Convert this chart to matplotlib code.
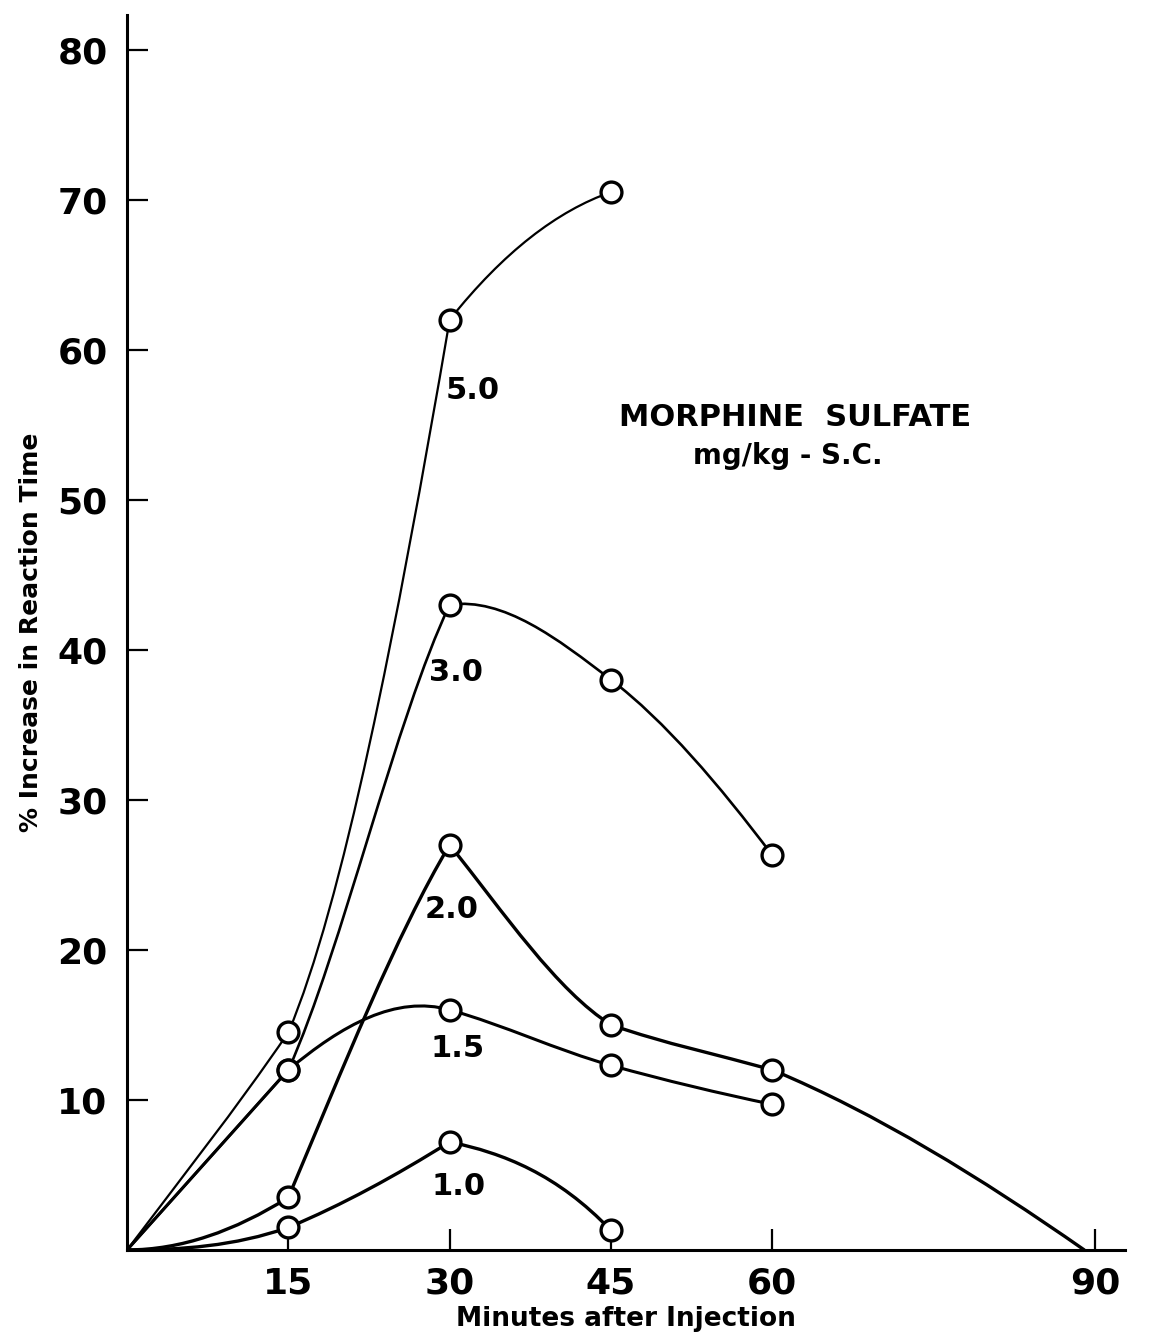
import matplotlib
matplotlib.use("Agg")
import matplotlib.pyplot as plt
from matplotlib.path import Path
from matplotlib.patches import PathPatch

########### DATA ###########
DOSES = ["5.0", "3.0", "2.0", "1.5", "1.0"]

minutes_50 = [0, 15, 30, 45]
pct_50 = [0, 14.5, 62, 70.5]

minutes_30 = [0, 15, 30, 45, 60]
pct_30 = [0, 12, 43, 38, 26.3]

minutes_20 = [0, 15, 30, 45, 60, 89]
pct_20 = [0, 3.5, 27, 15, 12, 0]

minutes_15 = [0, 15, 30, 45, 60]
pct_15 = [0, 12, 16, 12.3, 9.7]

minutes_10 = [0, 15, 30, 45]
pct_10 = [0, 1.5, 7.2, 1.3]

# slope of the hand-drawn curve (in, out) at every point
slopes_50 = [(0.95, 0.95), (1.05, 1.7), (4.2, 0.9), (0.25, 0.25)]
slopes_30 = [(0.8, 0.8), (0.8, 1.6), (1.5, 0.1), (-0.55, -0.55), (-0.95, -0.95)]
slopes_20 = [(0.0, 0.0), (0.45, 1.7), (1.2, -0.9), (-0.45, -0.25), (-0.2, -0.3), (-0.5, -0.5)]
slopes_15 = [(0.8, 0.8), (0.8, 0.6), (-0.2, -0.2), (-0.2, -0.2), (-0.15, -0.15)]
slopes_10 = [(0.0, 0.0), (0.25, 0.3), (0.45, -0.15), (-0.75, -0.75)]

x_ticks = [15, 30, 45, 60, 90]
y_ticks = [10, 20, 30, 40, 50, 60, 70, 80]
############################

series = [
    (minutes_50, pct_50, slopes_50, 1.6),
    (minutes_30, pct_30, slopes_30, 1.9),
    (minutes_20, pct_20, slopes_20, 2.4),
    (minutes_15, pct_15, slopes_15, 2.2),
    (minutes_10, pct_10, slopes_10, 2.4),
]

# where each dose label sits (data coords)
label_pos = {"5.0": (32.1, 57.3), "3.0": (30.6, 38.5), "2.0": (30.2, 22.7),
             "1.5": (30.7, 13.4), "1.0": (30.8, 4.2)}

FONT = "DejaVu Sans"


def hermite_path(xs, ys, slopes):
    verts = [(xs[0], ys[0])]
    codes = [Path.MOVETO]
    for i in range(len(xs) - 1):
        dx = xs[i + 1] - xs[i]
        m0 = slopes[i][1]
        m1 = slopes[i + 1][0]
        verts += [(xs[i] + dx / 3, ys[i] + m0 * dx / 3),
                  (xs[i + 1] - dx / 3, ys[i + 1] - m1 * dx / 3),
                  (xs[i + 1], ys[i + 1])]
        codes += [Path.CURVE4] * 3
    return Path(verts, codes)


fig = plt.figure(figsize=(11.56, 13.4), dpi=100)
ax = fig.add_axes([0.1099, 0.0672, 0.8634, 0.9216])

for xs, ys, sl, lw in series:
    ax.add_patch(PathPatch(hermite_path(xs, ys, sl), fill=False, lw=lw,
                           edgecolor="black", capstyle="round", zorder=2))
    mx = [x for x, y in zip(xs, ys) if y > 0]
    my = [y for y in ys if y > 0]
    ax.plot(mx, my, "o", ms=15, mfc="white", mec="black", mew=2.4,
            linestyle="none", zorder=3)

for dose in DOSES:
    ax.text(*label_pos[dose], dose, ha="center", va="center", fontsize=22,
            fontweight="bold", family=FONT)

ax.text(62.1, 55.5, "MORPHINE  SULFATE", ha="center", va="center",
        fontsize=22, fontweight="bold", family=FONT)
ax.text(61.4, 52.9, "mg/kg - S.C.", ha="center", va="center",
        fontsize=20, fontweight="bold", family=FONT)

ax.set_xlim(0, 92.8)
ax.set_ylim(0, 82.3)
ax.set_xticks(x_ticks)
ax.set_yticks(y_ticks)
ax.tick_params(direction="in", length=15, width=1.6, labelsize=26, pad=12)
ax.tick_params(axis="y", pad=14)
for lab in ax.get_xticklabels() + ax.get_yticklabels():
    lab.set_fontweight("bold")
    lab.set_family(FONT)

for s in ["top", "right"]:
    ax.spines[s].set_visible(False)
for s in ["left", "bottom"]:
    ax.spines[s].set_linewidth(2.2)

ax.set_xlabel("Minutes after Injection", fontsize=19, fontweight="bold",
              family=FONT, labelpad=4)
ax.set_ylabel("% Increase in Reaction Time", fontsize=18, fontweight="bold",
              family=FONT, labelpad=10)

fig.savefig("out.png", dpi=100)
